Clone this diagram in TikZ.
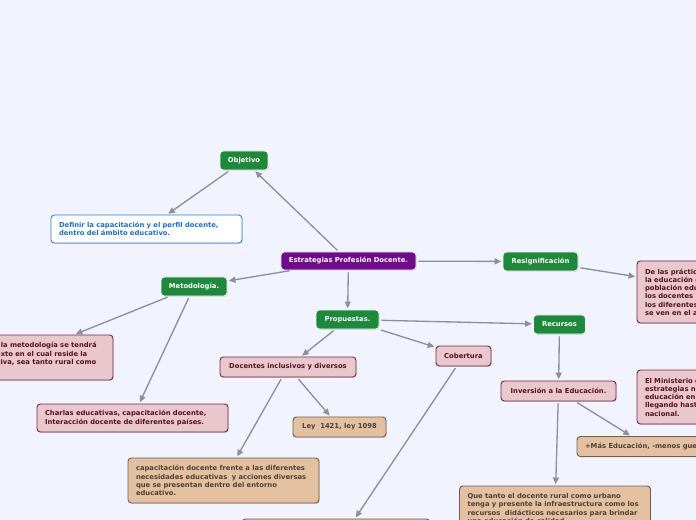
\documentclass[tikz,border=0pt]{standalone}
\usepackage{fontspec}
\setmainfont{DejaVu Sans}
\usetikzlibrary{arrows.meta}
\usetikzlibrary{shadows}

\definecolor{fondo}{RGB}{241,244,254}
\definecolor{verde}{RGB}{30,137,58}
\definecolor{morado}{RGB}{110,12,140}
\definecolor{rosa}{RGB}{232,200,204}
\definecolor{rosaborde}{RGB}{122,38,54}
\definecolor{rosatexto}{RGB}{90,15,36}
\definecolor{arena}{RGB}{227,193,160}
\definecolor{arenaborde}{RGB}{110,94,78}
\definecolor{arenatexto}{RGB}{77,64,56}
\definecolor{azul}{RGB}{45,127,224}
\definecolor{azultexto}{RGB}{27,111,214}
\definecolor{gris}{RGB}{140,144,153}

\tikzset{
  caja/.style={rounded corners=2.5pt, font=\bfseries\fontsize{5.1}{6.2}\selectfont,
    inner xsep=6pt, inner ysep=0pt,
    drop shadow={shadow xshift=0.5pt, shadow yshift=-0.6pt, opacity=0.3}},
  tam/.style 2 args={minimum width=#1*0.75pt, minimum height=#2*0.75pt},
  ancho/.style={text width=131.25pt, align=left},
  tema/.style={caja, fill=verde, draw=white, line width=0.6pt, text=white},
  central/.style={caja, fill=morado, draw=white, line width=0.6pt, text=white},
  idea/.style={caja, fill=rosa, draw=rosaborde, line width=0.7pt, text=rosatexto},
  nota/.style={caja, fill=arena, draw=arenaborde, line width=0.7pt, text=arenatexto},
  meta/.style={caja, fill=white, draw=azul, line width=0.7pt, text=azultexto},
  flecha/.style={draw=gris, line width=1pt, -{Triangle[length=5pt,width=4.5pt]},
    shorten <=1.5pt, shorten >=1pt}
}

\begin{document}
\begin{tikzpicture}[x=0.75pt, y=-0.75pt]

\useasboundingbox (0,0) rectangle (696,520);
\fill[fondo] (0,0) rectangle (696,520);
\clip (0,0) rectangle (696,520);

% central
  \node[central, tam={135}{18}] (estrategias) at (348.5,261) {Estrategias Profesión Docente.};

% Objetivo
  \node[tema, tam={48}{19}] (objetivo) at (244,160.5) {Objetivo};
  \node[meta, tam={191}{28}, ancho] (definir) at (146.5,229) {Definir la capacitación y el perfil docente,\\dentro del ámbito educativo.};

% Metodologia
  \node[tema, tam={66}{19}] (metodologia) at (194,286.5) {Metodología.};
  \node[idea, tam={191}{45}, ancho] (contexto) at (17.5,357.5) {Para implementar la metodología se tendrá\\en cuenta el contexto en el cual reside la\\comunidad educativa, sea tanto rural como\\urbana.};
  \node[idea, tam={191}{28}, ancho] (charlas) at (132.5,418) {Charlas educativas, capacitación docente,\\Interacción docente de diferentes países.};

% Resignificacion
  \node[tema, tam={75}{19}] (resignificacion) at (540.5,261.5) {Resignificación};
  \node[idea, tam={191}{62}, ancho] (practicas) at (732.5,292) {De las prácticas pedagógicas de\\la educación en la\\población educativa,\\los docentes reconocen\\los diferentes contextos que\\se ven en el aula.};

% Propuestas
  \node[tema, tam={63}{19}] (propuestas) at (347.5,319.5) {Propuestas.};

    % docentes
    \node[idea, tam={136}{20}] (docentes) at (288,367) {Docentes inclusivos y diversos};
    \node[nota, tam={93}{20}] (ley) at (339.5,427) {Ley~ 1421, ley 1098};
    \node[nota, tam={191}{45}, ancho] (capacitacion) at (223.5,480.5) {capacitación docente frente a las diferentes\\necesidades educativas~ y acciones diversas\\que se presentan dentro del entorno\\educativo.};

    % cobertura
    \node[idea, tam={55}{20}] (cobertura) at (463.5,356) {Cobertura};
    \node[nota, tam={188}{56}] (coberturanota) at (336,547) {};

    % recursos
    \node[tema, tam={52}{19}] (recursos) at (559.5,324.5) {Recursos};
    \node[idea, tam={115}{20}] (inversion) at (558.5,391) {Inversión a la Educación.};
    \node[idea, tam={191}{54}, ancho] (ministerio) at (732.5,397) {El Ministerio de Educación\\estrategias nuevas para la\\educación en el país,\\llegando hasta el territorio\\nacional.};
    \node[nota, tam={142}{20}] (masedu) at (648,446.5) {+Más Educación, -menos guerra.};
    \node[nota, tam={191}{45}, ancho] (infraestructura) at (555,508.5) {Que tanto el docente rural como urbano\\tenga y presente la infraestructura como los\\recursos~ didácticos necesarios para brindar\\una educación de calidad.};

% connectors
\draw[flecha] (estrategias) -- (objetivo);
\draw[flecha] (objetivo) -- (definir);
\draw[flecha] (estrategias) -- (metodologia);
\draw[flecha] (estrategias) -- (resignificacion);
\draw[flecha] (estrategias) -- (propuestas);
\draw[flecha] (metodologia) -- (contexto);
\draw[flecha] (metodologia) -- (charlas);
\draw[flecha] (resignificacion) -- (practicas);
\draw[flecha] (propuestas) -- (recursos);
\draw[flecha] (propuestas) -- (cobertura);
\draw[flecha] (propuestas) -- (docentes);
\draw[flecha] (docentes) -- (ley);
\draw[flecha] (docentes) -- (capacitacion);
\draw[flecha] (cobertura) -- (coberturanota);
\draw[flecha] (recursos) -- (inversion);
\draw[flecha] (inversion) -- (masedu);
\draw[flecha] (inversion) -- (infraestructura);

\end{tikzpicture}
\end{document}
